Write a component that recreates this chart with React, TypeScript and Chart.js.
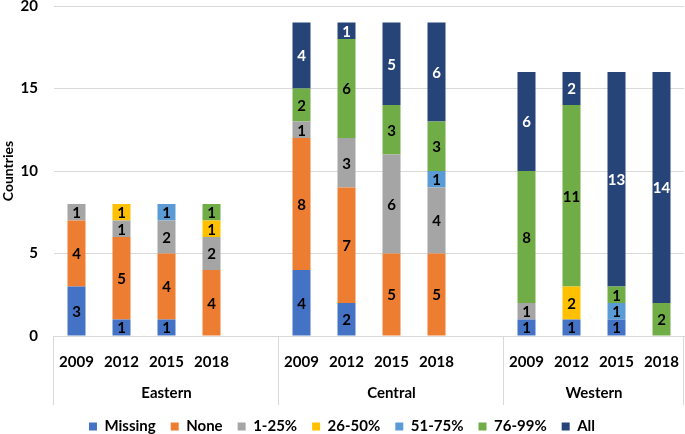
import React, { useEffect, useRef } from "react";
import { Chart, registerables } from "chart.js";

Chart.register(...registerables);

const regions = ["Eastern", "Central", "Western"];
const years = ["2009", "2012", "2015", "2018"];

// values per series, ordered Eastern 2009..2018, Central 2009..2018, Western 2009..2018
const missing = [3, 1, 1, 0, 4, 2, 0, 0, 1, 1, 1, 0];
const none = [4, 5, 4, 4, 8, 7, 5, 5, 0, 0, 0, 0];
const pct1to25 = [1, 1, 2, 2, 1, 3, 6, 4, 1, 0, 0, 0];
const pct26to50 = [0, 1, 0, 1, 0, 0, 0, 0, 0, 2, 0, 0];
const pct51to75 = [0, 0, 1, 0, 0, 0, 0, 1, 0, 0, 1, 0];
const pct76to99 = [0, 0, 0, 1, 2, 6, 3, 3, 8, 11, 1, 2];
const allCov = [0, 0, 0, 0, 4, 1, 5, 6, 6, 2, 13, 14];

const seriesNames = ["Missing", "None", "1-25%", "26-50%", "51-75%", "76-99%", "All"];
const seriesValues = [missing, none, pct1to25, pct26to50, pct51to75, pct76to99, allCov];
const seriesColors = ["#4472C4", "#ED7D31", "#A5A5A5", "#FFC000", "#5B9BD5", "#70AD47", "#264478"];
const labelColors = ["#000", "#000", "#000", "#000", "#000", "#000", "#fff"];

const yTicks = [0, 5, 10, 15, 20];

const FONT = "Lato, 'Open Sans', sans-serif";

// build labels with a blank slot after each region except the last
const labels: string[] = [];
const groupRanges: { name: string; start: number; end: number }[] = [];
regions.forEach((r, ri) => {
  const start = labels.length;
  years.forEach((y) => labels.push(y));
  if (ri < regions.length - 1) labels.push("");
  groupRanges.push({ name: r, start, end: labels.length - 1 });
});

function expand(vals: number[]): (number | null)[] {
  const out: (number | null)[] = [];
  let k = 0;
  regions.forEach((_, ri) => {
    years.forEach(() => out.push(vals[k++]));
    if (ri < regions.length - 1) out.push(null);
  });
  return out;
}

const valueLabelPlugin = {
  id: "valueLabels",
  afterDatasetsDraw(chart: any) {
    const ctx = chart.ctx;
    ctx.save();
    ctx.font = `bold 15px ${FONT}`;
    ctx.textAlign = "center";
    ctx.textBaseline = "middle";
    chart.data.datasets.forEach((ds: any, di: number) => {
      const meta = chart.getDatasetMeta(di);
      meta.data.forEach((bar: any, i: number) => {
        const v = ds.data[i];
        if (v == null || v === 0) return;
        const { x, y, base } = bar.getProps(["x", "y", "base"], true);
        ctx.fillStyle = labelColors[di];
        ctx.fillText(String(v), x, (y + base) / 2 + 1);
      });
    });
    ctx.restore();
  },
};

const groupAxisPlugin = {
  id: "groupAxis",
  afterDraw(chart: any) {
    const ctx = chart.ctx;
    const xs = chart.scales.x;
    const area = chart.chartArea;
    const slot = xs.getPixelForValue(1) - xs.getPixelForValue(0);
    ctx.save();
    ctx.strokeStyle = "#D9D9D9";
    ctx.lineWidth = 1;
    const bounds: number[] = [];
    groupRanges.forEach((g, gi) => {
      const l = xs.getPixelForValue(g.start) - slot / 2;
      const r = xs.getPixelForValue(g.end) + slot / 2;
      if (gi === 0) bounds.push(l);
      bounds.push(r);
      ctx.fillStyle = "#000";
      ctx.font = `bold 15px ${FONT}`;
      ctx.textAlign = "center";
      ctx.textBaseline = "middle";
      ctx.fillText(g.name, (l + r) / 2, area.bottom + 57);
    });
    bounds.forEach((b) => {
      const x = Math.round(b) - 0.5;
      ctx.beginPath();
      ctx.moveTo(x, area.bottom);
      ctx.lineTo(x, area.bottom + 69);
      ctx.stroke();
    });
    ctx.restore();
  },
};

export default function App() {
  const ref = useRef<HTMLCanvasElement | null>(null);
  useEffect(() => {
    if (!ref.current) return;
    const chart = new Chart(ref.current, {
      type: "bar",
      data: {
        labels,
        datasets: seriesNames.map((name, i) => ({
          label: name,
          data: expand(seriesValues[i]),
          backgroundColor: seriesColors[i],
          borderWidth: 0,
          barPercentage: 0.4,
          categoryPercentage: 1,
        })),
      },
      options: {
        animation: false,
        responsive: true,
        maintainAspectRatio: false,
        layout: { autoPadding: false, padding: { top: 6, right: 1, left: 0, bottom: -10 } },
        plugins: {
          tooltip: { enabled: false },
          legend: {
            position: "bottom",
            labels: {
              font: { family: FONT, size: 15, weight: "bold" },
              color: "#000",
              boxWidth: 8,
              boxHeight: 8,
              padding: 15,
            },
          },
        },
        scales: {
          x: {
            stacked: true,
            grid: { display: false, drawTicks: false },
            border: { display: true, color: "#D9D9D9" },
            ticks: {
              color: "#000",
              font: { family: FONT, size: 15, weight: "bold" },
              padding: 17,
              maxRotation: 0,
              autoSkip: false,
            },
            afterFit(scale: any) {
              scale.height = 68;
              scale.paddingLeft = 0;
              scale.paddingRight = 0;
            },
          },
          y: {
            stacked: true,
            min: 0,
            max: 20,
            afterBuildTicks(scale: any) {
              scale.ticks = yTicks.map((v) => ({ value: v }));
            },
            grid: { color: "#D9D9D9", drawTicks: false },
            border: { display: false },
            ticks: {
              color: "#000",
              font: { family: FONT, size: 15, weight: "bold" },
              padding: 16,
            },
            title: {
              display: true,
              text: "Countries",
              color: "#000",
              font: { family: FONT, size: 14, weight: "bold" },
              padding: { top: 0, bottom: 6 },
            },
            afterFit(scale: any) {
              scale.width = 54;
              scale.paddingTop = 0;
              scale.paddingBottom = 0;
            },
          },
        },
      },
      plugins: [valueLabelPlugin, groupAxisPlugin],
    });
    return () => chart.destroy();
  }, []);
  return (
    <div style={{ position: "absolute", left: 0, top: 0, width: 685, height: 434 }}>
      <canvas ref={ref} />
    </div>
  );
}
